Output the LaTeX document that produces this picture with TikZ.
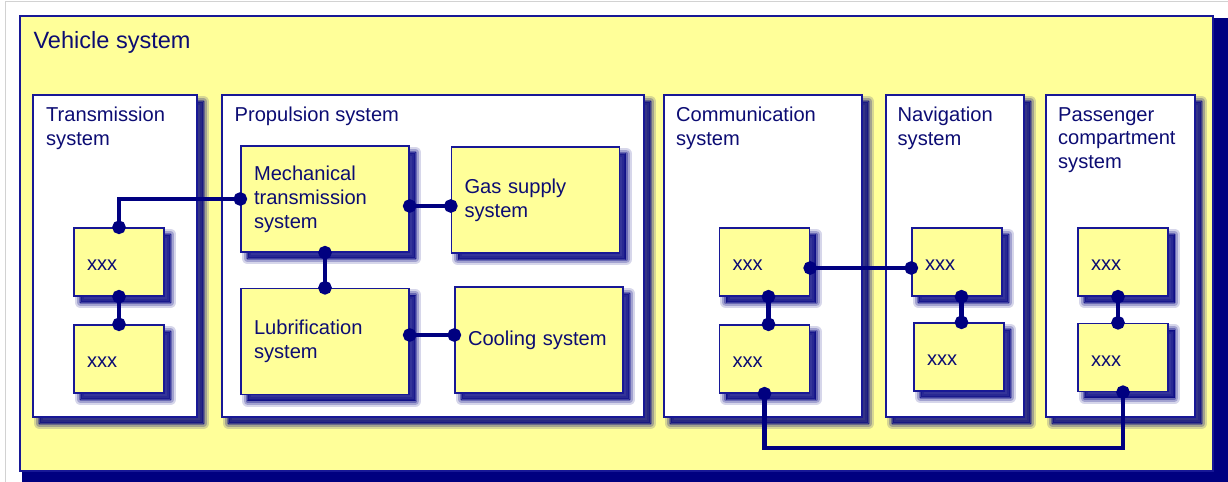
\documentclass[tikz,border=0pt]{standalone}
\usepackage{fontspec}
\setmainfont{Liberation Sans}
\usetikzlibrary{arrows.meta,positioning}
\newcommand{\boxfont}{\fontsize{11.45}{13.6}\selectfont}
\newcommand{\headfont}{\fontsize{13.4}{16}\selectfont}

\begin{document}
\begin{tikzpicture}[x=0.02cm, y=-0.02cm]
\definecolor{sysyellow}{RGB}{255,255,153}
\definecolor{navy}{RGB}{0,0,128}
\definecolor{border}{RGB}{24,24,150}
\definecolor{ink}{RGB}{12,12,115}
\tikzset{
  haze/.style 2 args={preaction={draw=navy, fill=navy, line width=#1,
      line join=round, draw opacity=#2, fill opacity=#2,
      transform canvas={xshift=0.13cm, yshift=-0.13cm}}},
  shade box/.style={haze={0.24cm}{0.16}, haze={0.15cm}{0.24}, haze={0.07cm}{0.35},
      haze={0cm}{0.4}},
  system/.style={rectangle, draw=border, line width=0.8pt, fill=white,
      shade box, minimum width=#1, minimum height=6.44cm, inner sep=0pt},
  part/.style={rectangle, draw=border, line width=0.8pt, fill=sysyellow,
      shade box, text width=2.84cm, minimum height=2.12cm, inner xsep=0.26cm,
      align=left, text=ink, font=\boxfont},
  item/.style={part, text width=1.28cm, minimum height=1.36cm,
      text height=0.4cm, text depth=0.04cm},
  caption/.style={anchor=north west, inner sep=0pt, align=left, text=ink,
      font=\boxfont},
  link/.style={draw=navy, line width=0.085cm,
      {Circle[length=0.27cm]}-{Circle[length=0.27cm]},
      shorten <=-0.135cm, shorten >=-0.135cm},
}

\useasboundingbox (0,0) rectangle (1228,482);
\clip (0,0) rectangle (1228,482);

% cornice
\draw[gray!35, line width=0.8pt] (5.5,500) -- (5.5,1.5) -- (1240,1.5);
\fill[navy] (22,18) rectangle (1240,500);
\node[rectangle,
    draw=border,
    line width=1pt,
    fill=sysyellow,
    minimum width=23.86cm,
    minimum height=9.10cm] (vehicle) at (616.5,243.5) {};
\node[caption, font=\headfont, below right=0.31cm and 0.28cm of vehicle.north west]
    (vehicle-t) {Vehicle system};

% sistemi
\node[system=3.28cm] (trans) at (115,256) {};
\node[system=8.44cm] (prop) at (433,256) {};
\node[system=3.96cm] (comm) at (763,256) {};
\node[system=2.76cm] (nav) at (955,256) {};
\node[system=2.98cm] (pass) at (1120.5,256) {};

\node[caption, below right=0.25cm and 0.27cm of trans.north west] (trans-t)
    {Transmission\\system};
\node[caption, below right=0.25cm and 0.26cm of prop.north west] (prop-t)
    {Propulsion system};
\node[caption, below right=0.25cm and 0.25cm of comm.north west] (comm-t)
    {Communication\\system};
\node[caption, below right=0.25cm and 0.24cm of nav.north west] (nav-t)
    {Navigation\\system};
\node[caption, below right=0.25cm and 0.25cm of pass.north west] (pass-t)
    {Passenger\\compartment\\system};

% propulsione
\node[part] (mech) at (325,199) {Mechanical\\transmission\\system};
\node[part] (gas) at (535.5,200) {Gas supply\\system};
\node[part] (lub) at (325,341.5) {Lubrification\\system};
\node[part] (cool) at (539,340) {Cooling system};

% xxx
\node[item] (tx1) at (119,262) {xxx};
\node[item] (tx2) at (119,359) {xxx};
\node[item] (cx1) at (764.5,262) {xxx};
\node[item] (cx2) at (764.5,359) {xxx};
\node[item] (nx1) at (957,262) {xxx};
\node[item] (nx2) at (959,357) {xxx};
\node[item] (px1) at (1123,262) {xxx};
\node[item] (px2) at (1123,357.5) {xxx};

% collegamenti
\draw[link] (tx1.north) |- (mech.west);
\draw[link] (tx1.south) -- (tx1.south |- tx2.north);
\draw[link] (mech.south) -- (mech.south |- lub.north);
\draw[link] ([yshift=-0.14cm]mech.east) -- ([yshift=-0.14cm]mech.east -| gas.west);
\draw[link] ([yshift=0.13cm]lub.east) -- ([yshift=0.13cm]lub.east -| cool.west);
\draw[link] ([yshift=-0.12cm]cx1.east) -- ([yshift=-0.12cm]cx1.east -| nx1.west);
\draw[link] ([xshift=0.08cm]cx1.south) -- ([xshift=0.08cm]cx1.south |- cx2.north);
\draw[link] ([xshift=0.09cm]nx1.south) -- ([xshift=0.09cm]nx1.south |- nx2.north);
\draw[link] ([xshift=-0.1cm]px1.south) -- ([xshift=-0.1cm]px1.south |- px2.north);

\coordinate (bus) at (940,448);
\draw[link] (cx2.south) |- (bus) -| (px2.south);

\end{tikzpicture}
\end{document}
